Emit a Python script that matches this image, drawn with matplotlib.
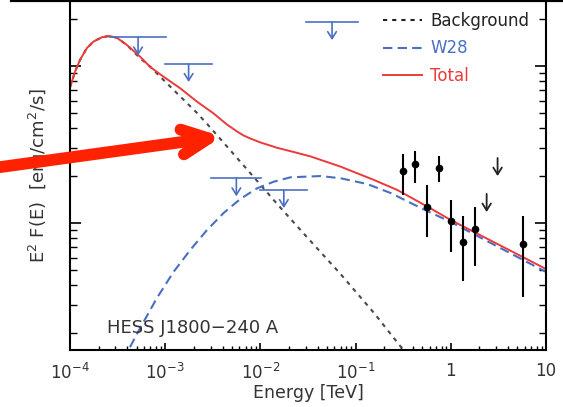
import numpy as np
import matplotlib
matplotlib.use("Agg")
import matplotlib.pyplot as plt
from matplotlib.lines import Line2D
from matplotlib.patches import FancyArrowPatch
from matplotlib.ticker import FixedLocator, FixedFormatter, LogLocator, NullFormatter

# ---------------- data (log10 E [TeV], log10 E^2F [erg/cm2/s]) ----------------
total_logE = [-4.000, -3.947, -3.895, -3.824, -3.755, -3.666, -3.586, -3.508, -3.403, -3.263,
              -3.158, -3.018, -2.842, -2.666, -2.492, -2.351, -2.245, -2.176, -2.105, -2.000,
              -1.824, -1.649, -1.474, -1.158, -0.807, -0.561, -0.245, 0.000, 1.000]
total_logF = [-10.136, -10.036, -9.962, -9.887, -9.845, -9.817, -9.809, -9.820, -9.866, -9.941,
              -10.006, -10.068, -10.142, -10.227, -10.302, -10.373, -10.417, -10.443, -10.462, -10.487,
              -10.521, -10.548, -10.576, -10.641, -10.726, -10.790, -10.896, -10.981, -11.293]

bkg_logE = [-4.000, -3.947, -3.895, -3.824, -3.755, -3.666, -3.586, -3.508, -3.403, -3.263,
            -3.158, -3.018, -2.842, -2.666, -2.526, -2.351, -2.176, -2.000, -1.824, -1.508,
            -1.158, -0.807, -0.526, -0.421]
bkg_logF = [-10.136, -10.036, -9.962, -9.887, -9.845, -9.817, -9.809, -9.820, -9.866, -9.951,
            -10.004, -10.089, -10.194, -10.299, -10.392, -10.513, -10.634, -10.756, -10.879, -11.092,
            -11.325, -11.573, -11.788, -11.866]

w28_logE = [-3.442, -3.386, -3.263, -3.087, -2.913, -2.737, -2.561, -2.386, -2.211, -2.035,
            -1.860, -1.684, -1.368, -1.158, -0.877, -0.632, -0.316, 0.000, 1.000]
w28_logF = [-11.873, -11.809, -11.669, -11.478, -11.312, -11.172, -11.045, -10.936, -10.847, -10.779,
            -10.737, -10.709, -10.701, -10.715, -10.752, -10.809, -10.904, -10.994, -11.312]

# Fermi-LAT upper limits (bin edges in log10 E, flux level)
fermi_lo_logE = [-3.58, -3.00, -2.516, -2.00, -1.516]
fermi_hi_logE = [-2.99, -2.508, -1.989, -1.508, -0.979]
fermi_ul_logF = [-9.818, -9.987, -10.715, -10.790, -9.720]

# HESS points
hess_E = [0.318, 0.418, 0.569, 0.753, 1.00, 1.33, 1.80, 5.69]
hess_logF = [-10.669, -10.624, -10.896, -10.652, -10.985, -11.119, -11.040, -11.136]
hess_lo_logF = [-10.822, -10.743, -11.087, -10.741, -11.183, -11.368, -11.274, -11.469]
hess_hi_logF = [-10.561, -10.539, -10.758, -10.571, -10.854, -10.955, -10.896, -10.955]

# HESS upper limits
hess_ul_E = [2.38, 3.10]
hess_ul_logF = [-10.815, -10.586]

xtick_vals = [1e-4, 1e-3, 1e-2, 1e-1, 1, 10]
xtick_labels = [r'$10^{-4}$', r'$10^{-3}$', r'$10^{-2}$', r'$10^{-1}$', '1', '10']

# ---------------- style ----------------
BLUE = '#4a6fc2'
RED = '#ec3a3a'
GRAY = '#4a4a4a'
TXT = '#333333'
UL_LEN = 0.115  # decades

plt.rcParams['font.family'] = ['DejaVu Sans']
W, H = 563, 407
fig = plt.figure(figsize=(W / 100, H / 100), dpi=100)
ax = fig.add_axes([70 / W, 57 / H, (546 - 70) / W, (406 - 57) / H])

ax.set_xscale('log')
ax.set_yscale('log')

p = lambda a: 10 ** np.asarray(a, dtype=float)

ax.plot(p(bkg_logE), p(bkg_logF), color=GRAY, lw=1.5, ls=(0, (2.0, 2.4)))
ax.plot(p(w28_logE), p(w28_logF), color=BLUE, lw=1.5, ls=(0, (4.5, 2.5)))
ax.plot(p(total_logE), p(total_logF), color=RED, lw=1.4)

# Fermi ULs
for lo, hi, f in zip(fermi_lo_logE, fermi_hi_logE, fermi_ul_logF):
    ax.plot([10 ** lo, 10 ** hi], [10 ** f, 10 ** f], color=BLUE, lw=1.2)
    xc = 10 ** ((lo + hi) / 2)
    ax.annotate('', xy=(xc, 10 ** (f - UL_LEN)), xytext=(xc, 10 ** f),
                arrowprops=dict(arrowstyle='->,head_length=0.35,head_width=0.22', color=BLUE,
                                lw=1.2, shrinkA=0, shrinkB=0, mutation_scale=14))

# HESS points
yv = p(hess_logF)
ax.errorbar(hess_E, yv, yerr=[yv - p(hess_lo_logF), p(hess_hi_logF) - yv],
            fmt='o', color='black', ms=4.5, elinewidth=1.5, capsize=0)

for e, f in zip(hess_ul_E, hess_ul_logF):
    ax.annotate('', xy=(e, 10 ** (f - UL_LEN)), xytext=(e, 10 ** f),
                arrowprops=dict(arrowstyle='->,head_length=0.35,head_width=0.22', color='#222222',
                                lw=1.3, shrinkA=0, shrinkB=0, mutation_scale=14))

ax.set_xlim(1e-4, 10)
ax.set_ylim(10 ** -11.809, 10 ** -9.586)

ax.xaxis.set_major_locator(FixedLocator(xtick_vals))
ax.xaxis.set_major_formatter(FixedFormatter(xtick_labels))
ax.xaxis.set_minor_locator(LogLocator(base=10, subs=np.arange(2, 10), numticks=20))
ax.xaxis.set_minor_formatter(NullFormatter())
ax.yaxis.set_minor_locator(LogLocator(base=10, subs=np.arange(2, 10), numticks=20))
ax.yaxis.set_major_formatter(NullFormatter())
ax.yaxis.set_minor_formatter(NullFormatter())

ax.tick_params(axis='x', which='major', direction='in', length=5, width=1.2, labelsize=12,
               pad=9, labelcolor=TXT, top=False)
ax.tick_params(axis='x', which='minor', direction='in', length=3, width=1.0, top=False)
ax.tick_params(axis='y', which='major', direction='in', length=8, width=1.2, left=True, right=True)
ax.tick_params(axis='y', which='minor', direction='in', length=5, width=1.0, left=True, right=True)

for s in ['left', 'right', 'bottom']:
    ax.spines[s].set_linewidth(1.5)
ax.spines['top'].set_visible(False)

ax.set_xlabel('Energy [TeV]', fontsize=12.5, color=TXT, labelpad=1)
ax.set_ylabel(r'E$^2$ F(E)  [erg/cm$^2$/s]', fontsize=13, color=TXT, labelpad=10)

ax.text(10 ** -3.61, 10 ** -11.669, 'HESS J1800\u2212240 A', fontsize=13, color=TXT,
        va='center', ha='left')

handles = [Line2D([], [], color='#222222', lw=1.5, ls=(0, (2.0, 2.4))),
           Line2D([], [], color=BLUE, lw=1.5, ls=(0, (4.5, 2.5))),
           Line2D([], [], color=RED, lw=1.4)]
leg = ax.legend(handles, ['Background', 'W28', 'Total'], loc='upper left',
                bbox_to_anchor=(0.657, 0.968), frameon=False, fontsize=12,
                handlelength=2.35, handletextpad=0.5, labelspacing=0.55,
                borderpad=0, borderaxespad=0)
for t, c in zip(leg.get_texts(), ['#222222', BLUE, RED]):
    t.set_color(c)

# border line at the top of the picture
fig.add_artist(Line2D([11 / W, 1.0], [1 - 1 / H, 1 - 1 / H], transform=fig.transFigure,
                      color='black', lw=1.6))

# red annotation arrow
fig.add_artist(FancyArrowPatch(
    (-10, 238.5), (222, 270.5), transform=None,
    arrowstyle='->,head_length=0.95,head_width=0.45', mutation_scale=20,
    shrinkA=0, shrinkB=0,
    color='#ff2200', lw=8.5, capstyle='round', joinstyle='round'))

fig.savefig('out.png', dpi=100)
